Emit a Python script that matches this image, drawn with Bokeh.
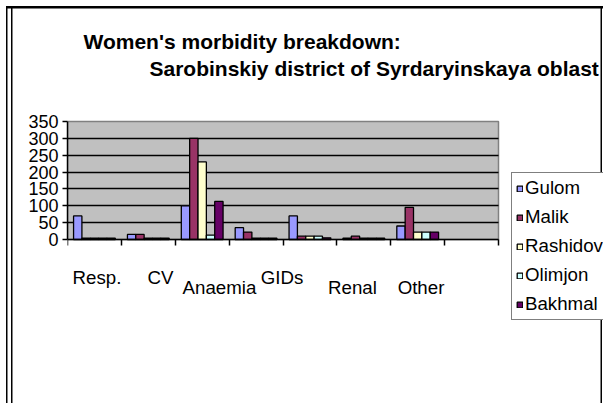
from bokeh.plotting import figure
from bokeh.models import Range1d, FixedTicker, Legend, LegendItem, Label
from bokeh.embed import file_html
from bokeh.resources import INLINE

# ---------------- data ----------------
categories = ["Resp.", "CV", "Anaemia", "GIDs", "", "Renal", "Other", ""]
row_a_labels = ["Resp.", "CV", "GIDs"]
row_b_labels = ["Anaemia", "Renal", "Other"]
series_names = ["Gulom", "Malik", "Rashidov", "Olimjon", "Bakhmal"]
gulom = [70, 15, 100, 35, 70, 4, 40]
malik = [4, 15, 300, 22, 10, 10, 95]
rashidov = [4, 4, 230, 4, 10, 4, 22]
olimjon = [4, 4, 13, 4, 10, 4, 22]
bakhmal = [4, 4, 113, 4, 5, 4, 22]
y_ticks = [0, 50, 100, 150, 200, 250, 300, 350]
title_1 = "Women's morbidity breakdown:"
title_2 = "Sarobinskiy district of Syrdaryinskaya oblast"

# ---------------- layout / style ----------------
colors = ["#9999FF", "#993366", "#FFFFCC", "#CCFFFF", "#660066"]
FONT = "Liberation Sans"
W, H = 603, 403
FL, FR, FT, FB = 67, 603, 0, 343          # frame edges (px)
PX0, PX1, PY0, PY1 = 67, 498, 239, 121    # plot-area edges (px)
NX = len(categories)
YMAX = y_ticks[-1]
SX = (PX1 - PX0) / NX
SY = (PY0 - PY1) / YMAX

def dx(px):
    return (px - PX0) / SX

def dy(py):
    return (PY0 - py) / SY

p = figure(width=W, height=H, title=None,
           x_range=Range1d(dx(FL), dx(FR)), y_range=Range1d(dy(FB), dy(FT)),
           output_backend="svg", toolbar_location=None,
           min_border_left=FL, min_border_right=W - FR, min_border_top=FT, min_border_bottom=H - FB)
p.background_fill_color = None
p.border_fill_color = None
p.outline_line_color = None
p.styles = {"box-shadow": ", ".join([
    "inset 0 6px 0 0 white", "inset 6px 0 0 0 white",
    "inset 0 8.5px 0 0 black", "inset 7.5px 0 0 0 black",
    "inset 11px 0 0 0 white", "inset 12.5px 0 0 0 black",
    "inset -1px 0 0 0 white", "inset -2.5px 0 0 0 black"])}

# plot area (grey wall) spanning the category range and the value range
p.quad(left=0, right=NX, bottom=0, top=YMAX, fill_color="#C0C0C0",
       line_color="#808080", line_width=1.5, level="image")

p.xgrid.visible = False
yg = p.ygrid[0]
yg.ticker = FixedTicker(ticks=y_ticks[1:-1])
yg.grid_line_color = "black"
yg.grid_line_width = 1.5
if "cross_bounds" in yg.properties():
    yg.cross_bounds = (0, NX)
else:
    yg.visible = False
    p.segment(x0=[0] * (len(y_ticks) - 2), x1=[NX] * (len(y_ticks) - 2),
              y0=y_ticks[1:-1], y1=y_ticks[1:-1], line_color="black", line_width=1.5,
              level="underlay")

ya = p.yaxis[0]
ya.bounds = (0, YMAX)
ya.ticker = FixedTicker(ticks=y_ticks)
ya.major_label_text_font = FONT
ya.major_label_text_font_size = "18px"
ya.major_label_text_color = "black"
ya.major_tick_out = 5
ya.major_tick_in = 0
ya.minor_tick_line_color = None
ya.major_label_standoff = 4
ya.axis_line_width = 1.5
ya.major_tick_line_width = 1.5
ya.axis_line_color = "black"

xa = p.xaxis[0]
xa.fixed_location = 0
xa.bounds = (0, NX)
xa.ticker = FixedTicker(ticks=list(range(NX + 1)))
xa.major_label_overrides = {i: "" for i in range(NX + 1)}
xa.major_tick_out = 6
xa.major_tick_in = 0
xa.minor_tick_line_color = None
xa.axis_line_width = 1.5
xa.major_tick_line_width = 1.5
xa.axis_line_color = "black"

bw = 0.155
renderers = []
for i, vals in enumerate([gulom, malik, rashidov, olimjon, bakhmal]):
    xs = [k + 0.5 + (i - 2) * bw for k in range(len(vals))]
    r = p.vbar(x=xs, top=vals, bottom=0, width=bw, fill_color=colors[i],
               line_color="black", line_width=1.3)
    renderers.append(r)

legend = Legend(items=[LegendItem(label=n, renderers=[r]) for n, r in zip(series_names, renderers)],
                location=(511 - FL, FB - 320), padding=4, spacing=7, label_height=22,
                glyph_height=7, glyph_width=7, label_standoff=2, margin=0,
                border_line_color="black", border_line_width=1.5,
                background_fill_color="white", background_fill_alpha=1,
                label_text_font=FONT, label_text_font_size="18.7px", label_text_color="black")
p.add_layout(legend, "center")

# titles
for t, lx, ly in [(title_1, 83, 41), (title_2, 149, 68)]:
    p.add_layout(Label(x=dx(lx), y=dy(ly), text=t, text_font=FONT, text_font_style="bold",
                       text_font_size="21px", text_baseline="alphabetic", text_color="black"))

# staggered category labels
label_rows = [(row_a_labels, [96.5, 160, 281.5], 276.5), (row_b_labels, [219, 352, 420.5], 287)]
for labels, xs_px, base in label_rows:
    for t, lx in zip(labels, xs_px):
        p.add_layout(Label(x=dx(lx), y=dy(base), text=t, text_font=FONT, text_font_size="18.7px",
                           text_align="center", text_baseline="alphabetic", text_color="black"))

open("out.html", "w").write(file_html(p, INLINE))
